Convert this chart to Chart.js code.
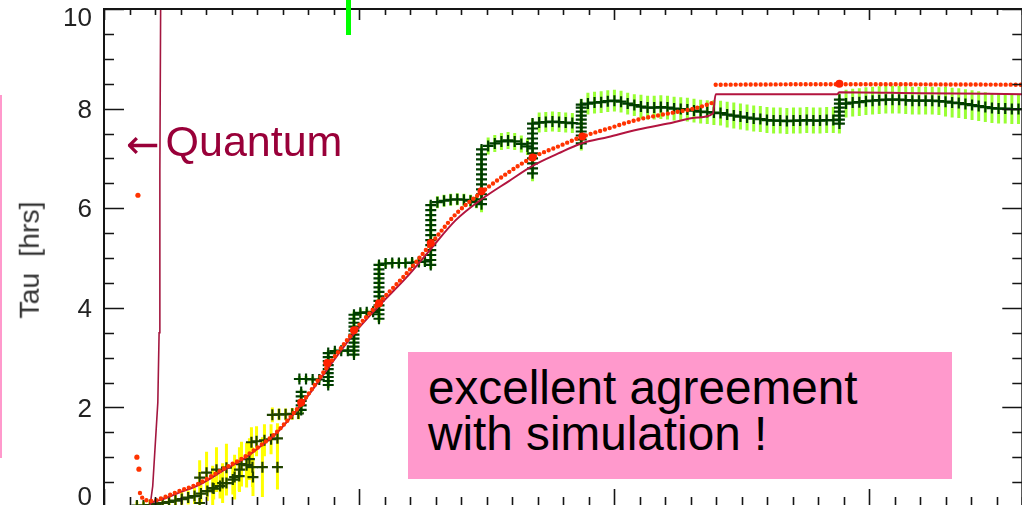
<!DOCTYPE html>
<html>
<head>
<meta charset="utf-8">
<script src="https://cdn.jsdelivr.net/npm/chart.js@4/dist/chart.umd.min.js"></script>
<style>
  html, body { margin: 0; padding: 0; width: 1022px; height: 505px; overflow: hidden; background: #fff; }
  #wrap { position: relative; width: 1022px; height: 505px; overflow: hidden; }
  canvas { position: absolute; left: 0; top: 0; }
  .txt { position: absolute; font-family: "Liberation Sans", Arial, sans-serif; white-space: nowrap; }
  #ylab { left: 29px; top: 260px; transform: translate(-50%, -50%) rotate(-90deg); font-size: 28.5px; color: #333; line-height: 1; }
  #quantum { left: 126px; top: 120px; font-size: 43px; line-height: 42px; color: #990039; }
  #quantum .arrow { font-family: "DejaVu Sans", sans-serif; font-size: 40px; margin-right: 6px; position: relative; top: 2px; }
  #box { position: absolute; left: 408px; top: 352px; width: 544px; height: 127px; background: #ff99cc; }
  #box .txt { position: static; font-size: 47.7px; line-height: 46px; color: #000; padding-left: 20px; }
  #box .first { padding-top: 13px; }
  #gbar { position: absolute; left: 346px; top: 0; width: 5px; height: 35px; background: #00ff00; }
  #pline { position: absolute; left: 0; top: 95px; width: 2px; height: 363px; background: #ff99cc; }
</style>
</head>
<body>
<div id="wrap">
  <canvas id="c" width="1030" height="520"></canvas>
  <div id="ylab" class="txt">Tau&nbsp;&nbsp;[hrs]</div>
  <div id="quantum" class="txt"><span class="arrow">←</span>Quantum</div>
  <div id="box">
    <div class="txt first">excellent agreement</div>
    <div class="txt">with simulation !</div>
  </div>
  <div id="gbar"></div>
  <div id="pline"></div>
</div>
<script>
// Axis ranges and tick labels
const xRange = [0, 36];
const yRange = [0, 10];
const xMajorTicks = [0, 10, 20, 30];
const yTickValues = [0, 2, 4, 6, 8, 10];
const yTickLabels = ['0', '2', '4', '6', '8', '10'];

// Measured Tau, early phase: [time, tau, error]
const tauEarly = [
  [1.29,0.03,0.08],[1.55,0.03,0.08],[1.8,0.04,0.1],[2.05,0.06,0.1],[2.3,0.08,0.1],[2.55,0.1,0.12],
  [2.8,0.13,0.12],[3.05,0.16,0.14],[3.3,0.19,0.14],[3.55,0.22,0.16],[3.75,0.08,0.1],[3.8,0.27,0.18],
  [4.05,0.32,0.2],[4.3,0.37,0.22],[4.55,0.42,0.25],[4.8,0.48,0.25],[5.05,0.55,0.3],[5.3,0.62,0.3],
  [3.75,0.59,0.35],[4.02,0.69,0.42],[4.26,0.38,0.45],[4.41,0.75,0.45],[4.65,0.48,0.4],[4.8,0.79,0.48],
  [5.12,0.6,0.45],[5.31,0.75,0.45],[5.39,0.86,0.45],[5.59,0.84,0.45],[5.7,0.96,0.42],[5.82,0.8,0.4],
  [5.84,0.6,0.38],[5.78,1.3,0.3],[5.98,1.32,0.3],[6.21,0.8,0.6],[6.29,1.34,0.32],[6.55,1.36,0.3],
  [6.8,0.8,0.45],[6.8,1.38,0.3],
  [6.6,1.85,0.15],[6.86,1.86,0.12],[7.12,1.86,0.12],[7.38,1.87,0.12],[7.62,1.88,0.12]
];

// Measured Tau, stepped phase: [time, tau, error]
const tauSteps = [
  [7.73,1.95,0.06],[7.73,2.04,0.06],[7.73,2.13,0.06],[7.73,2.22,0.06],[7.73,2.31,0.06],
  [7.66,2.57,0.06],[7.92,2.57,0.06],[8.18,2.56,0.06],[8.44,2.56,0.06],
  [8.79,2.45,0.06],[8.79,2.53,0.06],[8.79,2.61,0.06],[8.79,2.69,0.06],[8.79,2.77,0.06],[8.79,2.85,0.06],
  [8.79,2.93,0.06],[8.79,3.01,0.06],[8.79,3.09,0.06],
  [9.05,3.13,0.06],[9.3,3.14,0.06],[9.56,3.14,0.06],
  [9.8,3.06,0.06],[9.8,3.14,0.06],[9.8,3.22,0.06],[9.8,3.3,0.06],[9.8,3.38,0.06],[9.8,3.46,0.06],
  [9.8,3.54,0.06],[9.8,3.62,0.06],[9.8,3.7,0.06],[9.8,3.78,0.06],[9.8,3.86,0.06],
  [10.05,3.9,0.07],[10.3,3.91,0.07],[10.55,3.92,0.07],
  [10.78,3.78,0.07],[10.78,3.87,0.07],[10.78,3.96,0.07],[10.78,4.05,0.07],[10.78,4.14,0.07],[10.78,4.23,0.07],
  [10.78,4.32,0.07],[10.78,4.41,0.07],[10.78,4.5,0.07],[10.78,4.59,0.07],[10.78,4.68,0.07],[10.78,4.77,0.07],
  [10.78,4.86,0.07],
  [11.04,4.89,0.08],[11.3,4.9,0.08],[11.56,4.9,0.08],[11.82,4.9,0.08],[12.08,4.91,0.08],[12.34,4.92,0.08],
  [12.58,4.93,0.08],
  [12.81,4.86,0.08],[12.81,4.96,0.08],[12.81,5.06,0.08],[12.81,5.16,0.08],[12.81,5.26,0.08],[12.81,5.36,0.08],
  [12.81,5.46,0.08],[12.81,5.56,0.08],[12.81,5.66,0.08],[12.81,5.76,0.08],[12.81,5.86,0.08],[12.81,5.96,0.08],
  [12.81,6.06,0.08],
  [13.07,6.12,0.12],[13.33,6.15,0.12],[13.59,6.17,0.12],[13.85,6.18,0.12],[14.11,6.17,0.12],[14.37,6.15,0.12],
  [14.6,6.12,0.12],
  [14.8,6.08,0.16],[14.8,6.18,0.08],[14.8,6.28,0.08],[14.8,6.38,0.08],[14.8,6.48,0.08],[14.8,6.58,0.08],
  [14.8,6.68,0.08],[14.8,6.78,0.08],[14.8,6.88,0.08],[14.8,6.98,0.08],[14.8,7.08,0.08],[14.8,7.18,0.08],
  [15.06,7.25,0.17],[15.32,7.3,0.17],[15.58,7.34,0.17],[15.84,7.36,0.17],[16.1,7.34,0.17],[16.36,7.29,0.17],
  [16.6,7.24,0.17],
  [16.8,6.7,0.16],[16.8,6.8,0.1],[16.8,6.9,0.1],[16.8,7.0,0.1],[16.8,7.1,0.1],[16.8,7.2,0.1],
  [16.8,7.3,0.1],[16.8,7.4,0.1],[16.8,7.5,0.1],[16.8,7.6,0.1],[16.8,7.7,0.1],
  [17.06,7.72,0.2],[17.32,7.73,0.2],[17.58,7.74,0.2],[17.84,7.73,0.2],[18.1,7.72,0.2],[18.36,7.71,0.2],
  [18.71,7.3,0.14],[18.71,7.38,0.12],[18.71,7.46,0.12],[18.71,7.54,0.12],[18.71,7.62,0.12],[18.71,7.7,0.12],
  [18.71,7.78,0.12],[18.71,7.86,0.12],[18.71,7.94,0.12],[18.71,8.02,0.12],[18.71,8.08,0.12],
  [18.97,8.1,0.22],[19.23,8.12,0.22],[19.49,8.13,0.22],[19.75,8.15,0.22],[20.01,8.16,0.22],[20.27,8.14,0.22],
  [20.53,8.1,0.22],[20.79,8.07,0.22],[21.05,8.04,0.24],[21.31,8.02,0.24],[21.57,8.02,0.24],[21.83,8.03,0.24],
  [22.09,8.02,0.24],[22.35,8.0,0.24],[22.61,7.99,0.24],[22.87,7.98,0.24],[23.13,7.96,0.24],[23.39,7.94,0.24],
  [23.65,7.93,0.24],[23.91,7.92,0.25],[24.17,7.91,0.25],[24.43,7.88,0.26],[24.69,7.86,0.26],[24.95,7.84,0.26],
  [25.21,7.82,0.26],[25.47,7.8,0.26],[25.73,7.79,0.26],[25.99,7.77,0.26],[26.25,7.76,0.26],[26.51,7.76,0.26],
  [26.77,7.75,0.26],[27.03,7.76,0.26],[27.29,7.76,0.26],[27.55,7.77,0.26],[27.81,7.76,0.26],[28.07,7.76,0.26],
  [28.33,7.77,0.26],[28.59,7.77,0.26],
  [28.83,7.7,0.2],[28.83,7.78,0.12],[28.83,7.86,0.12],[28.83,7.94,0.12],[28.83,8.02,0.12],[28.83,8.1,0.12],
  [28.83,8.18,0.12],
  [29.09,8.1,0.28],[29.35,8.12,0.28],[29.61,8.13,0.28],[29.87,8.15,0.28],[30.13,8.16,0.28],[30.39,8.17,0.28],
  [30.65,8.18,0.28],[30.91,8.18,0.28],[31.17,8.18,0.28],[31.43,8.17,0.28],[31.69,8.16,0.28],[31.95,8.16,0.28],
  [32.21,8.16,0.28],[32.47,8.16,0.28],[32.73,8.15,0.28],[32.99,8.14,0.3],[33.25,8.12,0.3],[33.51,8.11,0.3],
  [33.77,8.09,0.3],[34.03,8.07,0.3],[34.29,8.05,0.3],[34.55,8.03,0.3],[34.81,8.01,0.3],[35.07,8.0,0.3],
  [35.33,8.0,0.3],[35.59,7.99,0.3],[35.85,7.99,0.3]
];

// Simulated Tau (dotted red); null splits the curve from the plateau
const simX = [1.41,1.48,1.6,1.8,1.99,2.38,2.85,3.75,4.14,4.73,5.43,6.09,6.76,7.77,8.83,9.8,10.78,11.84,
  12.81,13.79,14.8,15.86,16.8,17.81,18.71,19.77,20.94,22.11,23.28,23.87,23.92,23.98,28.83,36];
const simY = [0.28,0.2,0.15,0.12,0.13,0.2,0.3,0.48,0.6,0.78,0.98,1.22,1.5,2.1,2.87,3.53,4.1,4.68,
  5.28,5.88,6.32,6.72,7.02,7.24,7.43,7.6,7.78,7.9,8.02,8.12,null,8.48,8.49,8.48];

// Simulation highlights at the step times
const simMarkX = [7.73,8.75,9.8,10.78,12.81,14.8,16.8,18.75,28.83];
const simMarkY = [2.1,2.89,3.55,4.09,5.3,6.34,7.02,7.44,8.5];

// Isolated early simulation values
const simLoneX = [1.33,1.29,1.37];
const simLoneY = [6.26,1.0,0.76];

// Model curve (solid crimson)
const modelX = [1.8,2.38,2.85,3.75,4.73,5.43,6.09,6.76,7.77,8.83,9.8,10.78,11.84,12.81,13.79,14.8,15.86,
  16.8,17.81,18.71,19.77,20.94,22.11,23.28,23.87,23.98,28.75,28.83,32,36];
const modelY = [0.08,0.17,0.27,0.45,0.75,0.95,1.2,1.48,2.08,2.82,3.48,4.04,4.6,5.18,5.76,6.18,6.54,
  6.85,7.1,7.3,7.43,7.58,7.7,7.82,7.9,8.29,8.29,8.33,8.31,8.29];

// Quantum curve (solid crimson, diverging)
const quantumX = [1.8,1.91,2.11,2.16,2.19,2.22,2.24];
const quantumY = [0,0.42,2.1,3.5,6.75,10,11];

const pts = (xs, ys) => xs.map((x, i) => ({x, y: ys[i]}));
const triples = arr => arr.map(p => ({x: p[0], y: p[1]}));

// Vertical error bars drawn underneath each measured series
const errorBars = {
  id: 'errorBars',
  beforeDatasetDraw(chart, args) {
    const ds = chart.data.datasets[args.index];
    if (!ds.errors) return;
    const {ctx, chartArea: a, scales: {x, y}} = chart;
    ctx.save();
    ctx.beginPath();
    ctx.rect(a.left, a.top, a.right - a.left, a.bottom - a.top);
    ctx.clip();
    ctx.strokeStyle = ds.errorColor;
    ctx.lineWidth = 3;
    ds.data.forEach((p, i) => {
      const e = ds.errors[i];
      const px = x.getPixelForValue(p.x);
      ctx.beginPath();
      ctx.moveTo(px, y.getPixelForValue(p.y - e));
      ctx.lineTo(px, y.getPixelForValue(p.y + e));
      ctx.stroke();
    });
    ctx.restore();
  }
};

// Boxed frame with inward ticks on all four sides and left tick labels
const axisFrame = {
  id: 'axisFrame',
  afterDraw(chart) {
    const {ctx, chartArea: a, scales: {x, y}} = chart;
    ctx.save();
    ctx.strokeStyle = '#151515';
    ctx.lineWidth = 2;
    ctx.strokeRect(a.left, a.top, a.right - a.left, a.bottom - a.top);
    ctx.lineWidth = 1.6;
    ctx.beginPath();
    for (let k = 0; k <= (yRange[1] - yRange[0]) * 2; k++) {
      const v = yRange[0] + k * 0.5;
      const py = Math.round(y.getPixelForValue(v)) + 0.5;
      const len = (k % 4 === 0) ? 20 : 10;
      ctx.moveTo(a.left, py); ctx.lineTo(a.left + len, py);
      ctx.moveTo(a.right, py); ctx.lineTo(a.right - len, py);
    }
    for (let v = xRange[0]; v <= xRange[1]; v++) {
      const px = Math.round(x.getPixelForValue(v)) + 0.5;
      const major = xMajorTicks.includes(v);
      ctx.moveTo(px, a.top); ctx.lineTo(px, a.top + (major ? 11 : 6));
      ctx.moveTo(px, a.bottom); ctx.lineTo(px, a.bottom - (major ? 18 : 10));
    }
    ctx.stroke();
    ctx.font = '26px "Liberation Sans", Arial, sans-serif';
    ctx.fillStyle = '#222';
    ctx.textAlign = 'right';
    ctx.textBaseline = 'middle';
    yTickValues.forEach((v, i) => {
      let py = y.getPixelForValue(v) + 2;
      py = Math.min(Math.max(py, a.top + 10), a.bottom - 9);
      ctx.fillText(yTickLabels[i], a.left - 12, py);
    });
    ctx.restore();
  }
};

new Chart(document.getElementById('c'), {
  type: 'scatter',
  data: {
    datasets: [
      { data: pts(simLoneX, simLoneY), pointRadius: 2.6, pointBackgroundColor: '#ff3300', pointBorderWidth: 0 },
      { data: pts(simMarkX, simMarkY), pointRadius: 4, pointBackgroundColor: '#ff2200', pointBorderWidth: 0 },
      { data: pts(simX, simY), showLine: true, pointRadius: 0, borderColor: '#ff3300', borderWidth: 4.4,
        borderDash: [0, 5], borderCapStyle: 'round', cubicInterpolationMode: 'monotone', spanGaps: false },
      { data: pts(modelX, modelY), showLine: true, pointRadius: 0, borderColor: '#b3143f', borderWidth: 2,
        cubicInterpolationMode: 'monotone' },
      { data: pts(quantumX, quantumY), showLine: true, pointRadius: 0, borderColor: '#a3163f', borderWidth: 1.6,
        tension: 0 },
      { data: triples(tauSteps), errors: tauSteps.map(p => p[2]), errorColor: '#99ff33',
        pointStyle: 'cross', pointRadius: 5.5, borderColor: '#003d00', pointBorderWidth: 2.2 },
      { data: triples(tauEarly), errors: tauEarly.map(p => p[2]), errorColor: '#ffff00',
        pointStyle: 'cross', pointRadius: 5.5, borderColor: '#1f4200', pointBorderWidth: 2.2 }
    ]
  },
  options: {
    responsive: false,
    animation: false,
    devicePixelRatio: 1,
    layout: { padding: { left: 104, top: 9, right: 4, bottom: 13 } },
    plugins: { legend: { display: false }, tooltip: { enabled: false } },
    scales: {
      x: { type: 'linear', display: false, min: xRange[0], max: xRange[1] },
      y: { type: 'linear', display: false, min: yRange[0], max: yRange[1] }
    }
  },
  plugins: [errorBars, axisFrame]
});
</script>
</body>
</html>
